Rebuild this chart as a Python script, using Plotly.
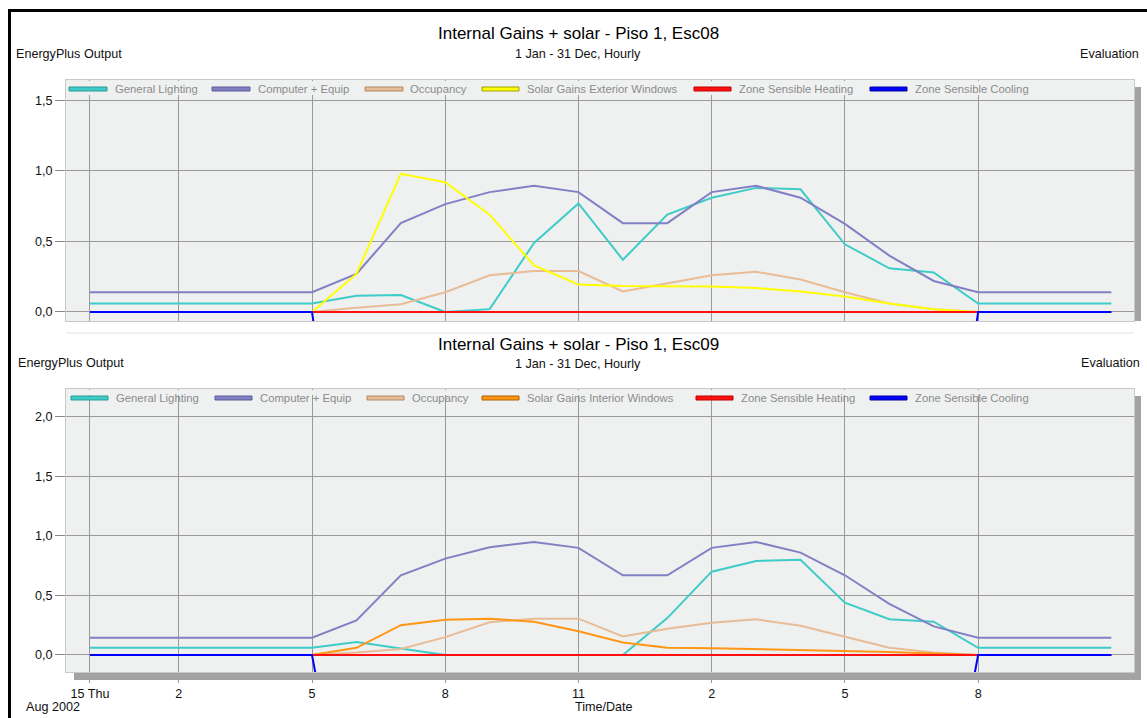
import plotly.graph_objects as go

# ---------------- data ----------------
hours = list(range(24))
x_tick_vals = [0, 2, 5, 8, 11, 14, 17, 20]
x_tick_text = ["15 Thu", "2", "5", "8", "11", "2", "5", "8"]

series_names_08 = ["General Lighting", "Computer + Equip", "Occupancy",
                   "Solar Gains Exterior Windows", "Zone Sensible Heating", "Zone Sensible Cooling"]
series_names_09 = ["General Lighting", "Computer + Equip", "Occupancy",
                   "Solar Gains Interior Windows", "Zone Sensible Heating", "Zone Sensible Cooling"]

lighting08 = [0.06, 0.06, 0.06, 0.06, 0.06, 0.06, 0.115, 0.12, 0.0, 0.02, 0.49, 0.77,
              0.37, 0.69, 0.81, 0.88, 0.87, 0.48, 0.31, 0.28, 0.06, 0.06, 0.06, 0.06]
equip08 = [0.14, 0.14, 0.14, 0.14, 0.14, 0.14, 0.27, 0.63, 0.765, 0.85, 0.895, 0.85,
           0.63, 0.63, 0.85, 0.895, 0.81, 0.625, 0.40, 0.22, 0.14, 0.14, 0.14, 0.14]
occupancy08 = [0, 0, 0, 0, 0, 0, 0.03, 0.055, 0.14, 0.26, 0.29, 0.29,
               0.145, 0.20, 0.26, 0.285, 0.23, 0.14, 0.06, 0.02, 0, 0, 0, 0]
solar_ext08 = [0, 0, 0, 0, 0, 0, 0.27, 0.98, 0.92, 0.69, 0.33, 0.195,
               0.185, 0.185, 0.18, 0.17, 0.145, 0.11, 0.06, 0.02, 0, 0, 0, 0]
heating08 = [0, 0, 0, 0, 0, 0, 0, 0, 0, 0, 0, 0,
             0, 0, 0, 0, 0, 0, 0, 0, 0, 0, 0, 0]
cooling08 = [0, 0, 0, 0, 0, 0, -2.2, -2.2, -2.2, -2.2, -2.2, -2.2,
             -2.2, -2.2, -2.2, -2.2, -2.2, -2.2, -2.2, -2.2, 0, 0, 0, 0]

lighting09 = [0.06, 0.06, 0.06, 0.06, 0.06, 0.06, 0.11, 0.056, 0.0, 0.0, 0.0, 0.0,
              0.0, 0.31, 0.70, 0.79, 0.80, 0.44, 0.30, 0.28, 0.06, 0.06, 0.06, 0.06]
equip09 = [0.145, 0.145, 0.145, 0.145, 0.145, 0.145, 0.29, 0.67, 0.81, 0.905, 0.95, 0.90,
           0.67, 0.67, 0.90, 0.95, 0.86, 0.67, 0.43, 0.24, 0.145, 0.145, 0.145, 0.145]
occupancy09 = [0, 0, 0, 0, 0, 0, 0.02, 0.05, 0.15, 0.275, 0.305, 0.305,
               0.155, 0.22, 0.27, 0.30, 0.245, 0.15, 0.06, 0.02, 0, 0, 0, 0]
solar_int09 = [0, 0, 0, 0, 0, 0, 0.06, 0.25, 0.295, 0.305, 0.28, 0.20,
               0.105, 0.06, 0.057, 0.05, 0.042, 0.035, 0.025, 0.012, 0, 0, 0, 0]
heating09 = [0, 0, 0, 0, 0, 0, 0, 0, 0, 0, 0, 0,
             0, 0, 0, 0, 0, 0, 0, 0, 0, 0, 0, 0]
cooling09 = [0, 0, 0, 0, 0, 0, -2.0, -2.0, -2.0, -2.0, -2.0, -2.0,
             -2.0, -2.0, -2.0, -2.0, -2.0, -2.0, -2.0, -2.0, 0, 0, 0, 0]

y_tick_vals_top = [0, 0.5, 1.0, 1.5]
y_tick_text_top = ["0,0", "0,5", "1,0", "1,5"]
y_tick_vals_bot = [0, 0.5, 1.0, 1.5, 2.0]
y_tick_text_bot = ["0,0", "0,5", "1,0", "1,5", "2,0"]

colors_08 = ["#3ECCC8", "#8280C4", "#E8BC96", "#FFFF00", "#FF1010", "#0000FF"]
colors_09 = ["#3ECCC8", "#8280C4", "#E8BC96", "#FF9614", "#FF1010", "#0000FF"]
edge_08 = ["#2A9A96", "#5C5A98", "#B08A68", "#A0A000", "#C00000", "#0000A0"]
edge_09 = ["#2A9A96", "#5C5A98", "#B08A68", "#B06000", "#C00000", "#0000A0"]

# ---------------- geometry helpers ----------------
W, H = 1147, 718
FONT = "Arial, Liberation Sans, sans-serif"
TXT = 12.6


def px(x):
    return x / W


def py(y):
    return 1 - y / H


fig = go.Figure()

top_data = [lighting08, equip08, occupancy08, solar_ext08, heating08, cooling08]
bot_data = [lighting09, equip09, occupancy09, solar_int09, heating09, cooling09]

for name, vals, col in zip(series_names_08, top_data, colors_08):
    fig.add_trace(go.Scatter(x=hours, y=vals, mode="lines", name=name,
                             line=dict(color=col, width=2), xaxis="x", yaxis="y",
                             showlegend=False))
for name, vals, col in zip(series_names_09, bot_data, colors_09):
    fig.add_trace(go.Scatter(x=hours, y=vals, mode="lines", name=name,
                             line=dict(color=col, width=2), xaxis="x2", yaxis="y2",
                             showlegend=False))

GRID = "#9a9a9a"
BORDER = "#c8c8c8"
PLOT_BG = "#EFF0F0"

common_x = dict(domain=[px(66), px(1134)], range=[-0.54, 23.51],
                tickvals=x_tick_vals, ticktext=x_tick_text,
                showgrid=True, gridcolor=GRID, gridwidth=1, zeroline=False,
                showline=True, linecolor=BORDER, mirror=True,
                tickfont=dict(family=FONT, size=TXT, color="#111"))

fig.update_layout(
    width=W, height=H, autosize=False,
    margin=dict(l=0, r=0, t=0, b=0),
    paper_bgcolor="white", plot_bgcolor=PLOT_BG,
    showlegend=False,
    xaxis=dict(**common_x, anchor="y", showticklabels=False, ticks=""),
    yaxis=dict(domain=[py(321), py(80)], range=[-0.064, 1.645], anchor="x",
               tickvals=y_tick_vals_top, ticktext=y_tick_text_top,
               ticks="outside", ticklen=10, tickcolor="#888",
               showgrid=True, gridcolor=GRID, zeroline=False,
               showline=True, linecolor=BORDER, mirror=True,
               tickfont=dict(family=FONT, size=TXT, color="#111")),
    xaxis2=dict(**common_x, anchor="y2", ticks="outside", ticklen=10, tickcolor="#999"),
    yaxis2=dict(domain=[py(672), py(389)], range=[-0.143, 2.235], anchor="x2",
                tickvals=y_tick_vals_bot, ticktext=y_tick_text_bot,
                ticks="outside", ticklen=10, tickcolor="#888",
                showgrid=True, gridcolor=GRID, zeroline=False,
                showline=True, linecolor=BORDER, mirror=True,
                tickfont=dict(family=FONT, size=TXT, color="#111")),
)

shapes = []
annotations = []


def rect(x0, y0, x1, y1, fill, line_color=None, lw=0, layer="above"):
    shapes.append(dict(type="rect", xref="paper", yref="paper",
                       x0=px(x0), x1=px(x1), y0=py(y1), y1=py(y0),
                       fillcolor=fill, line=dict(color=line_color or fill, width=lw),
                       layer=layer))


def line(x0, y0, x1, y1, color, w):
    shapes.append(dict(type="line", xref="paper", yref="paper",
                       x0=px(x0), x1=px(x1), y0=py(y0), y1=py(y1),
                       line=dict(color=color, width=w), layer="above"))


def text(x, y, s, size=TXT, color="#111", anchor="left"):
    annotations.append(dict(xref="paper", yref="paper", x=px(x), y=py(y), text=s,
                            showarrow=False, xanchor=anchor, yanchor="middle",
                            font=dict(family=FONT, size=size, color=color)))


# legend strips (cover the top of the gridlines)
rect(67, 81, 1133, 95, PLOT_BG)
rect(67, 390, 1133, 395, PLOT_BG)

# shadows
rect(1135, 87, 1141, 321, "#a3a3a3")
rect(1135, 396, 1141, 680, "#a3a3a3")
rect(74, 673, 1141, 680, "#a3a3a3")

# faint line of the hidden top x axis
line(66, 333, 1134, 333, "#e2e2e2", 1)

# frame
line(9.5, 9, 9.5, 718, "#000", 3)
line(8, 10.5, 1147, 10.5, "#000", 3)

# legends
swatch_top = [(69, 107), (212, 250), (365, 403), (482, 519), (694, 731), (870, 907)]
label_top = [115, 258, 410, 527, 739, 915]
swatch_bot = [(71, 108), (215, 252), (367, 404), (482, 519), (696, 733), (870, 907)]
label_bot = [116, 260, 412, 527, 741, 915]
LEG = 11.3

for (a, b), tx, nm, col, ed in zip(swatch_top, label_top, series_names_08, colors_08, edge_08):
    rect(a, 87, b, 91, col, ed, 1)
    text(tx - 2, 89, nm, LEG, "#8c8c8c")
for (a, b), tx, nm, col, ed in zip(swatch_bot, label_bot, series_names_09, colors_09, edge_09):
    rect(a, 396, b, 400, col, ed, 1)
    text(tx - 2, 398, nm, LEG, "#8c8c8c")

# titles
text(578, 34, "Internal Gains + solar - Piso 1, Esc08", 17, "#000", "center")
text(578, 54, "1 Jan - 31 Dec, Hourly", TXT, "#111", "center")
text(14, 54, "EnergyPlus Output", TXT, "#111", "left")
text(1141, 54, "Evaluation", TXT, "#111", "right")

text(578, 344, "Internal Gains + solar - Piso 1, Esc09", 17, "#000", "center")
text(578, 364, "1 Jan - 31 Dec, Hourly", TXT, "#111", "center")
text(16, 363, "EnergyPlus Output", TXT, "#111", "left")
text(1142, 363, "Evaluation", TXT, "#111", "right")

text(53, 707, "Aug 2002", TXT, "#111", "center")
text(604, 707, "Time/Date", TXT, "#111", "center")

fig.update_layout(shapes=shapes, annotations=annotations)

fig.write_html("out.html", config={"displayModeBar": False},
               post_script="document.body.style.margin='0';document.body.style.overflow='hidden';")
